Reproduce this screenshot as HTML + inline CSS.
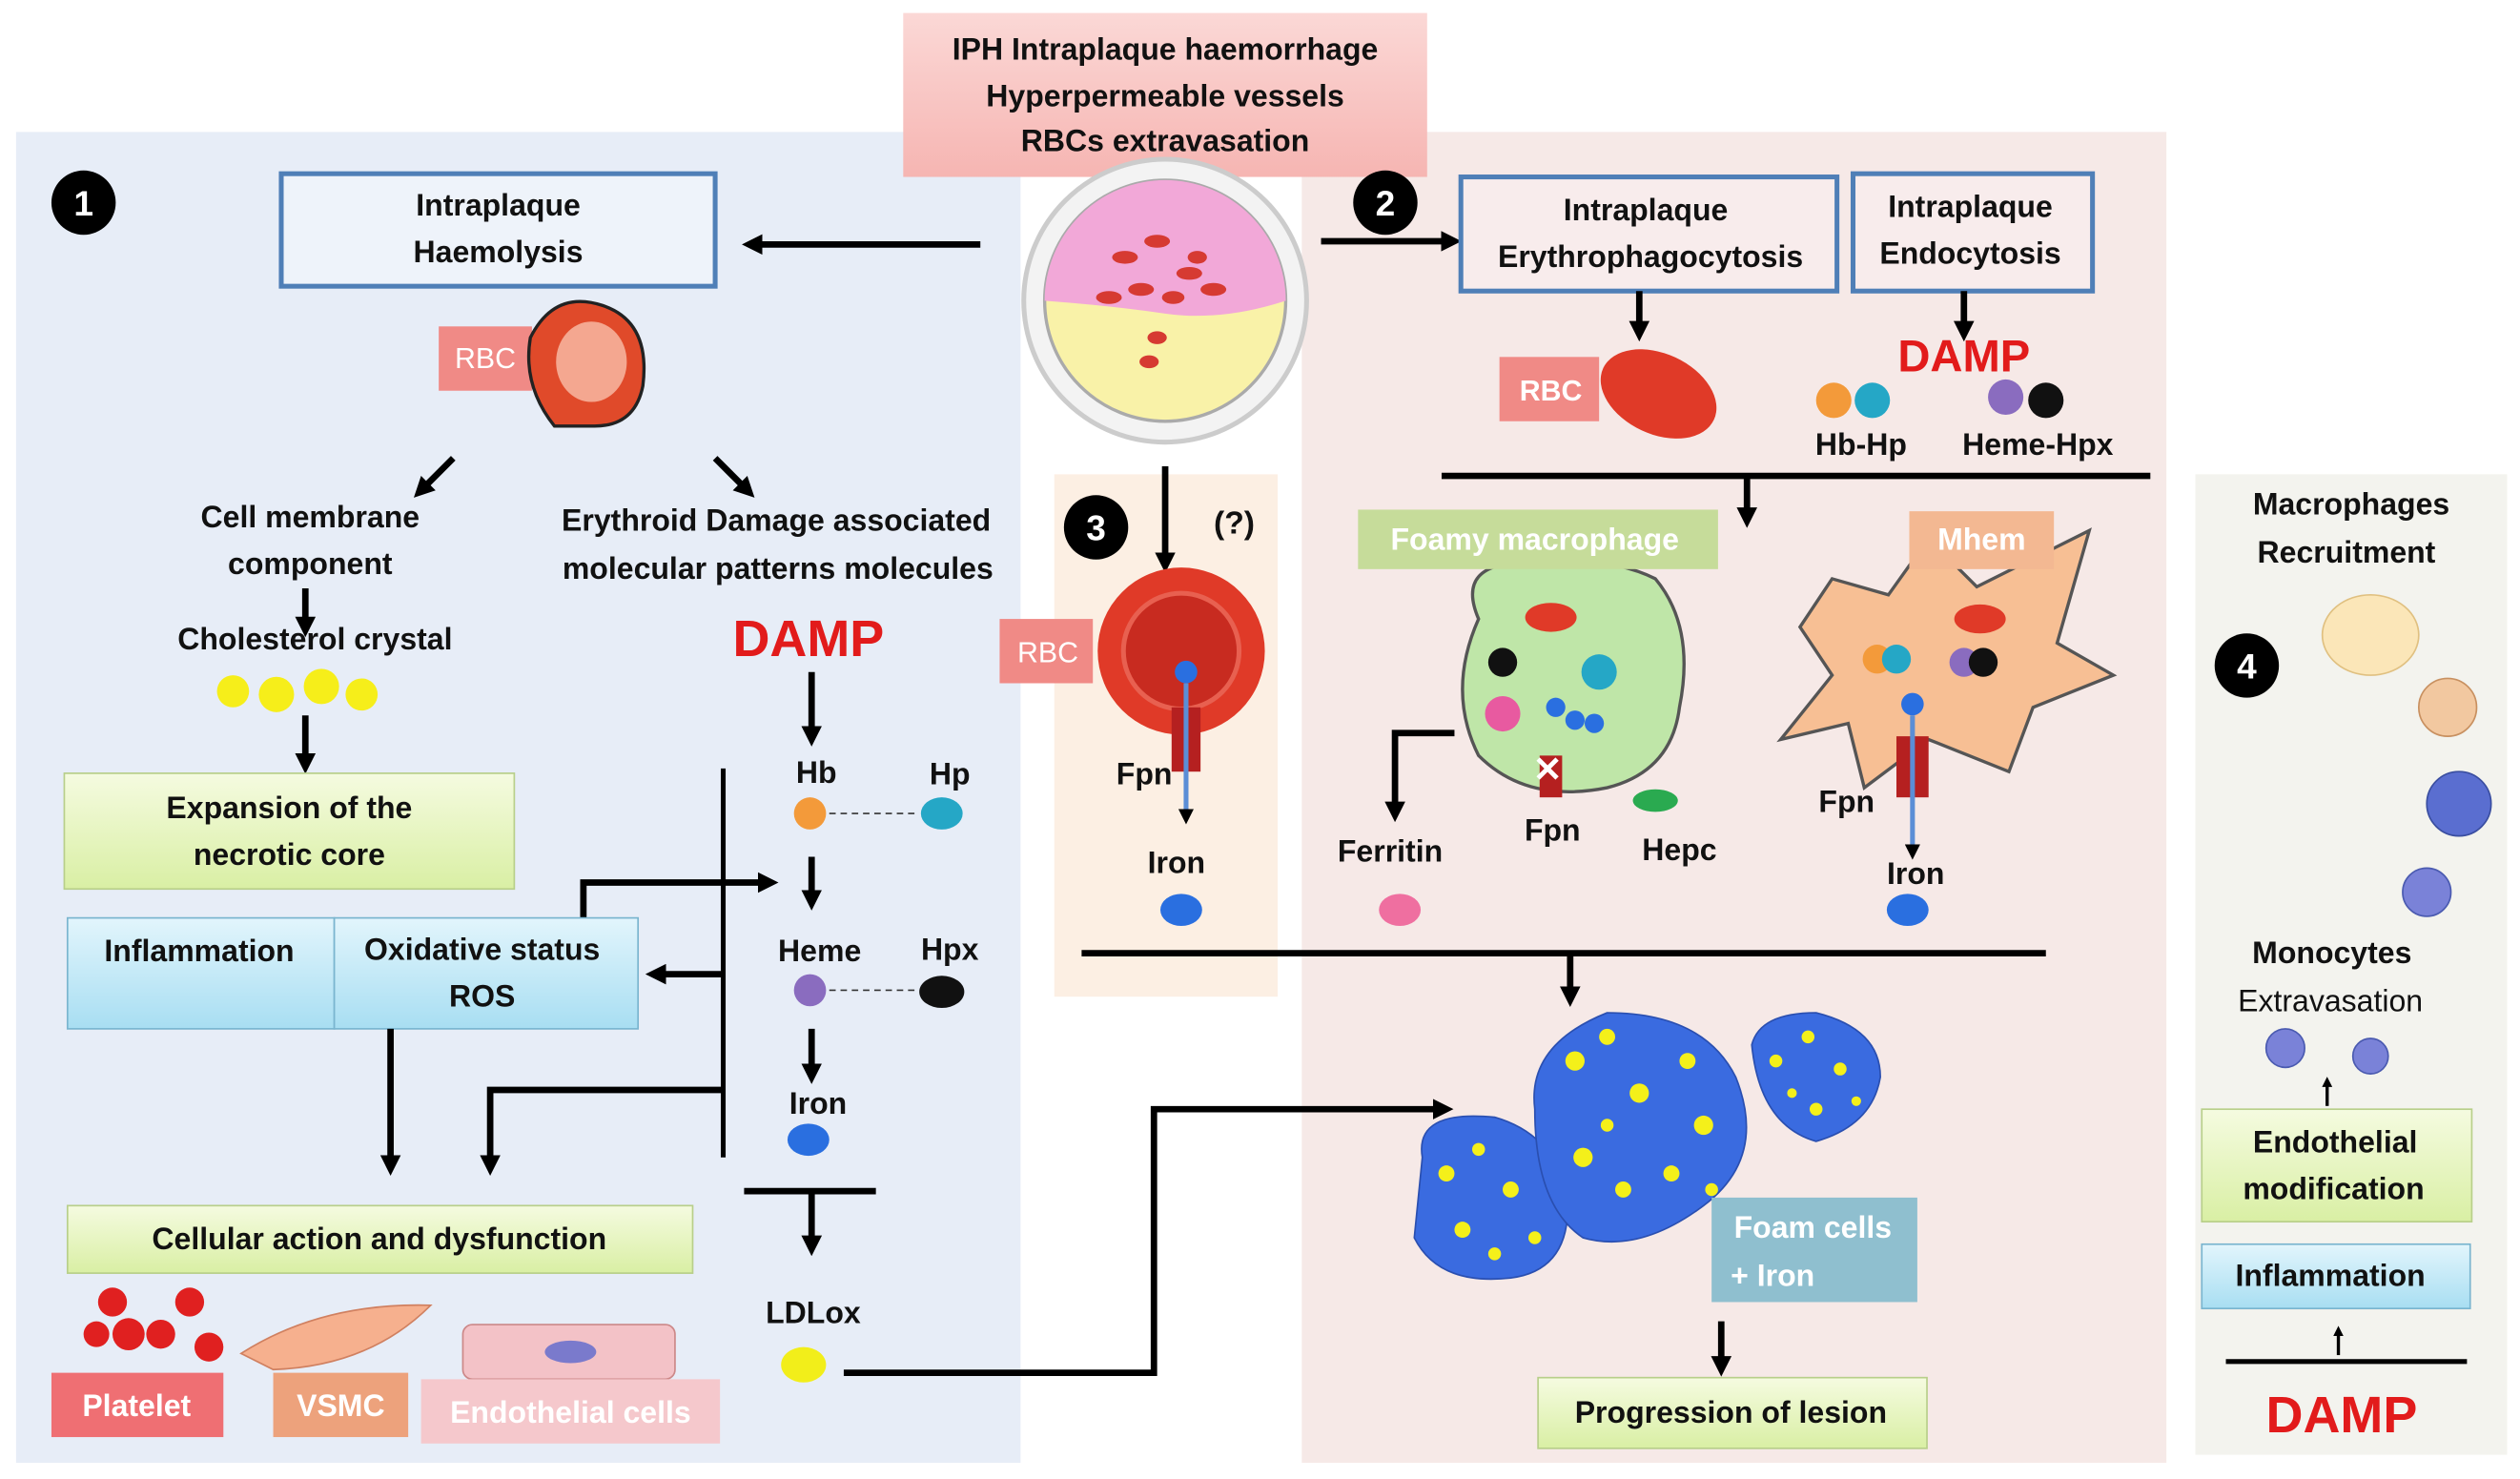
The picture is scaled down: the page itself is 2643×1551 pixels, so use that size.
<!DOCTYPE html>
<html><head><meta charset="utf-8"><style>
html,body{margin:0;padding:0;background:#fff}
svg{display:block}
text{font-family:"Liberation Sans",sans-serif;font-weight:bold;fill:#111}
</style></head><body>
<svg width="2643" height="1551" viewBox="0 0 1568 920" xmlns="http://www.w3.org/2000/svg">
<defs>
<marker id="a" viewBox="0 0 10 10" refX="5" refY="5" markerWidth="3.2" markerHeight="3.2" orient="auto"><path d="M0,0L10,5L0,10z" fill="#000"/></marker>
<linearGradient id="pk" x1="0" y1="0" x2="0" y2="1"><stop offset="0" stop-color="#fbd8d6"/><stop offset="1" stop-color="#f6b5b2"/></linearGradient>
<linearGradient id="gr" x1="0" y1="0" x2="0" y2="1"><stop offset="0" stop-color="#f5fbe0"/><stop offset="1" stop-color="#d9efa4"/></linearGradient>
<linearGradient id="bl" x1="0" y1="0" x2="0" y2="1"><stop offset="0" stop-color="#e2f5fc"/><stop offset="1" stop-color="#a8def2"/></linearGradient>
</defs>
<!-- panels -->
<rect x="10" y="82" width="625" height="828" fill="#e7edf7"/>
<rect x="810" y="82" width="538" height="828" fill="#f6e9e7"/>
<rect x="656" y="295" width="139" height="325" fill="#fcefe3"/>
<rect x="1366" y="295" width="194" height="610" fill="#f3f3ee"/>
<!-- title -->
<rect x="562" y="8" width="326" height="102" fill="url(#pk)"/>
<text x="725" y="37" font-size="19" text-anchor="middle">IPH Intraplaque haemorrhage</text>
<text x="725" y="66" font-size="19" text-anchor="middle">Hyperpermeable vessels</text>
<text x="725" y="94" font-size="19" text-anchor="middle">RBCs extravasation</text>
<!-- central circle -->
<circle cx="725" cy="187" r="88" fill="#f3f3f3" stroke="#ccc" stroke-width="3"/>
<circle cx="725" cy="187" r="75" fill="#f9f2a8" stroke="#aaa" stroke-width="2"/>
<path d="M650,187 A75,75 0 0 1 800,187 Q760,200 725,195 Q690,190 650,187z" fill="#f2a8d8"/>
<g fill="#d63a32"><ellipse cx="700" cy="160" rx="8" ry="4"/><ellipse cx="720" cy="150" rx="8" ry="4"/><ellipse cx="740" cy="170" rx="8" ry="4"/><ellipse cx="710" cy="180" rx="8" ry="4"/><ellipse cx="755" cy="180" rx="8" ry="4"/><ellipse cx="690" cy="185" rx="8" ry="4"/><ellipse cx="730" cy="185" rx="7" ry="4"/><ellipse cx="720" cy="210" rx="6" ry="4"/><ellipse cx="715" cy="225" rx="6" ry="4"/><ellipse cx="745" cy="160" rx="6" ry="4"/></g>
<!-- numbers -->
<g fill="#000"><circle cx="52" cy="126" r="20"/><circle cx="862" cy="126" r="20"/><circle cx="682" cy="328" r="20"/><circle cx="1398" cy="414" r="20"/></g>
<g font-size="22" text-anchor="middle" style="fill:#fff"><text x="52" y="134" style="fill:#fff">1</text><text x="862" y="134" style="fill:#fff">2</text><text x="682" y="336" style="fill:#fff">3</text><text x="1398" y="422" style="fill:#fff">4</text></g>
<!-- section 1 -->
<rect x="175" y="108" width="270" height="70" fill="#eef3fa" stroke="#4f7fb7" stroke-width="3"/>
<text x="310" y="134" font-size="19" text-anchor="middle">Intraplaque</text>
<text x="310" y="163" font-size="19" text-anchor="middle">Haemolysis</text>
<line x1="610" y1="152" x2="468" y2="152" stroke="#000" stroke-width="4" marker-end="url(#a)"/>
<rect x="273" y="203" width="58" height="40" fill="#f08a86"/>
<text x="302" y="229" font-size="18" text-anchor="middle" style="fill:#fff;font-weight:normal">RBC</text>
<path d="M330,210 Q345,180 375,190 Q405,200 400,240 Q395,265 370,265 L345,265 Q325,240 330,210z" fill="#e04a2a" stroke="#222" stroke-width="2"/>
<ellipse cx="368" cy="225" rx="22" ry="25" fill="#f4a790"/>
<text x="193" y="328" font-size="19" text-anchor="middle">Cell membrane</text>
<text x="193" y="357" font-size="19" text-anchor="middle">component</text>
<text x="196" y="404" font-size="19" text-anchor="middle">Cholesterol crystal</text>
<text x="483" y="330" font-size="19" text-anchor="middle">Erythroid Damage associated</text>
<text x="484" y="360" font-size="19" text-anchor="middle">molecular patterns molecules</text>
<line x1="282" y1="285" x2="262" y2="305" stroke="#000" stroke-width="4" marker-end="url(#a)"/>
<line x1="445" y1="285" x2="465" y2="305" stroke="#000" stroke-width="4" marker-end="url(#a)"/>
<line x1="190" y1="366" x2="190" y2="390" stroke="#000" stroke-width="4" marker-end="url(#a)"/>
<g fill="#f6ee1a"><circle cx="145" cy="430" r="10"/><circle cx="172" cy="432" r="11"/><circle cx="200" cy="427" r="11"/><circle cx="225" cy="432" r="10"/></g>
<line x1="190" y1="445" x2="190" y2="475" stroke="#000" stroke-width="4" marker-end="url(#a)"/>
<rect x="40" y="481" width="280" height="72" fill="url(#gr)" stroke="#b8cf8a"/>
<text x="180" y="509" font-size="19" text-anchor="middle">Expansion of the</text>
<text x="180" y="538" font-size="19" text-anchor="middle">necrotic core</text>
<text x="503" y="408" font-size="32" text-anchor="middle" style="fill:#e21b1b">DAMP</text>
<line x1="505" y1="418" x2="505" y2="458" stroke="#000" stroke-width="4" marker-end="url(#a)"/>
<text x="508" y="487" font-size="19" text-anchor="middle">Hb</text>
<text x="591" y="488" font-size="19" text-anchor="middle">Hp</text>
<circle cx="504" cy="506" r="10" fill="#f39a3a"/><ellipse cx="586" cy="506" rx="13" ry="10" fill="#25a7c6"/>
<line x1="516" y1="506" x2="572" y2="506" stroke="#333" stroke-dasharray="4 3"/>
<line x1="450" y1="478" x2="450" y2="720" stroke="#000" stroke-width="3"/>
<line x1="505" y1="533" x2="505" y2="560" stroke="#000" stroke-width="4" marker-end="url(#a)"/>
<polyline points="363,572 363,549 478,549" fill="none" stroke="#000" stroke-width="4" marker-end="url(#a)"/>
<text x="510" y="598" font-size="19" text-anchor="middle">Heme</text>
<text x="591" y="597" font-size="19" text-anchor="middle">Hpx</text>
<circle cx="504" cy="616" r="10" fill="#8a6cbf"/><ellipse cx="586" cy="617" rx="14" ry="10" fill="#111"/>
<line x1="516" y1="616" x2="572" y2="616" stroke="#333" stroke-dasharray="4 3"/>
<line x1="505" y1="640" x2="505" y2="668" stroke="#000" stroke-width="4" marker-end="url(#a)"/>
<text x="509" y="693" font-size="19" text-anchor="middle">Iron</text>
<ellipse cx="503" cy="709" rx="13" ry="10" fill="#2a6fe0"/>
<line x1="450" y1="606" x2="408" y2="606" stroke="#000" stroke-width="4" marker-end="url(#a)"/>
<rect x="42" y="571" width="166" height="69" fill="url(#bl)" stroke="#7ab5cf"/>
<rect x="208" y="571" width="189" height="69" fill="url(#bl)" stroke="#7ab5cf"/>
<text x="124" y="598" font-size="19" text-anchor="middle">Inflammation</text>
<text x="300" y="597" font-size="19" text-anchor="middle">Oxidative status</text>
<text x="300" y="626" font-size="19" text-anchor="middle">ROS</text>
<line x1="243" y1="640" x2="243" y2="725" stroke="#000" stroke-width="4" marker-end="url(#a)"/>
<polyline points="450,678 305,678 305,725" fill="none" stroke="#000" stroke-width="4" marker-end="url(#a)"/>
<line x1="463" y1="741" x2="545" y2="741" stroke="#000" stroke-width="4"/>
<line x1="505" y1="741" x2="505" y2="775" stroke="#000" stroke-width="4" marker-end="url(#a)"/>
<rect x="42" y="750" width="389" height="42" fill="url(#gr)" stroke="#b8cf8a"/>
<text x="236" y="777" font-size="19" text-anchor="middle">Cellular action and dysfunction</text>
<text x="506" y="823" font-size="19" text-anchor="middle">LDLox</text>
<ellipse cx="500" cy="849" rx="14" ry="11" fill="#f2ee1a"/>
<polyline points="525,854 718,854 718,690 898,690" fill="none" stroke="#000" stroke-width="4" marker-end="url(#a)"/>
<g fill="#e02020"><circle cx="70" cy="810" r="9"/><circle cx="80" cy="830" r="10"/><circle cx="100" cy="830" r="9"/><circle cx="118" cy="810" r="9"/><circle cx="130" cy="838" r="9"/><circle cx="60" cy="830" r="8"/></g>
<path d="M150,842 Q200,810 268,812 Q230,850 170,852z" fill="#f6b08e" stroke="#d08060"/>
<rect x="288" y="824" width="132" height="34" rx="6" fill="#f3c2c7" stroke="#c88"/>
<ellipse cx="355" cy="841" rx="16" ry="7" fill="#7a7acc"/>
<rect x="32" y="854" width="107" height="40" fill="#ef6f73"/>
<text x="85" y="881" font-size="19" text-anchor="middle" style="fill:#fff">Platelet</text>
<rect x="170" y="854" width="84" height="40" fill="#eda27c"/>
<text x="212" y="881" font-size="19" text-anchor="middle" style="fill:#fff">VSMC</text>
<rect x="262" y="858" width="186" height="40" fill="#f5c8cc"/>
<text x="355" y="885" font-size="19" text-anchor="middle" style="fill:#fff">Endothelial cells</text>
<!-- section 3 -->
<line x1="725" y1="290" x2="725" y2="350" stroke="#000" stroke-width="4" marker-end="url(#a)"/>
<text x="768" y="332" font-size="20" text-anchor="middle">(?)</text>
<circle cx="735" cy="405" r="52" fill="#e03a28"/>
<circle cx="735" cy="405" r="36" fill="#c82b20" stroke="#e86050" stroke-width="3"/>
<rect x="622" y="385" width="58" height="40" fill="#f08a86"/>
<text x="652" y="412" font-size="18" text-anchor="middle" style="fill:#fff;font-weight:normal">RBC</text>
<rect x="729" y="440" width="18" height="40" fill="#b52020"/>
<circle cx="738" cy="418" r="7" fill="#2a6fe0"/>
<line x1="738" y1="425" x2="738" y2="508" stroke="#5b8ed6" stroke-width="3" marker-end="url(#a)"/>
<text x="712" y="488" font-size="19" text-anchor="middle">Fpn</text>
<text x="732" y="543" font-size="19" text-anchor="middle">Iron</text>
<ellipse cx="735" cy="566" rx="13" ry="10" fill="#2a6fe0"/>
<!-- section 2 -->
<line x1="822" y1="150" x2="903" y2="150" stroke="#000" stroke-width="4" marker-end="url(#a)"/>
<rect x="909" y="110" width="234" height="71" fill="#f8ecec" stroke="#4f7fb7" stroke-width="3"/>
<text x="1024" y="137" font-size="19" text-anchor="middle">Intraplaque</text>
<text x="1027" y="166" font-size="19" text-anchor="middle">Erythrophagocytosis</text>
<rect x="1153" y="108" width="149" height="73" fill="#f8ecec" stroke="#4f7fb7" stroke-width="3"/>
<text x="1226" y="135" font-size="19" text-anchor="middle">Intraplaque</text>
<text x="1226" y="164" font-size="19" text-anchor="middle">Endocytosis</text>
<line x1="1020" y1="181" x2="1020" y2="206" stroke="#000" stroke-width="4" marker-end="url(#a)"/>
<line x1="1222" y1="181" x2="1222" y2="206" stroke="#000" stroke-width="4" marker-end="url(#a)"/>
<ellipse cx="1032" cy="245" rx="38" ry="25" transform="rotate(25 1032 245)" fill="#e03a28"/>
<rect x="933" y="222" width="62" height="40" fill="#f08a86"/>
<text x="965" y="249" font-size="18" text-anchor="middle" style="fill:#fff">RBC</text>
<text x="1222" y="231" font-size="28" text-anchor="middle" style="fill:#e21b1b">DAMP</text>
<circle cx="1141" cy="249" r="11" fill="#f39a3a"/><circle cx="1165" cy="249" r="11" fill="#25a7c6"/>
<circle cx="1248" cy="247" r="11" fill="#8a6cbf"/><circle cx="1273" cy="249" r="11" fill="#111"/>
<text x="1158" y="283" font-size="19" text-anchor="middle">Hb-Hp</text>
<text x="1268" y="283" font-size="19" text-anchor="middle">Heme-Hpx</text>
<line x1="897" y1="296" x2="1338" y2="296" stroke="#000" stroke-width="4"/>
<line x1="1087" y1="296" x2="1087" y2="322" stroke="#000" stroke-width="4" marker-end="url(#a)"/>
<path d="M920,385 Q905,350 950,350 Q1000,345 1030,360 Q1055,390 1045,440 Q1040,480 1000,490 Q950,500 920,470 Q900,430 920,385z" fill="#bfe6a8" stroke="#555" stroke-width="2"/>
<rect x="845" y="317" width="224" height="37" fill="#c6dc9a"/>
<text x="955" y="342" font-size="19" text-anchor="middle" style="fill:#fff">Foamy macrophage</text>
<ellipse cx="965" cy="384" rx="16" ry="9" fill="#e03a28"/><circle cx="935" cy="412" r="9" fill="#111"/><circle cx="995" cy="418" r="11" fill="#25a7c6"/><circle cx="935" cy="444" r="11" fill="#e85aa0"/>
<g fill="#2a6fe0"><circle cx="968" cy="440" r="6"/><circle cx="980" cy="448" r="6"/><circle cx="992" cy="450" r="6"/></g>
<rect x="958" y="470" width="14" height="26" fill="#b52020"/>
<text x="963" y="486" font-size="22" text-anchor="middle" style="fill:#fff">✕</text>
<ellipse cx="1030" cy="498" rx="14" ry="7" fill="#2aaa50"/>
<polyline points="905,456 868,456 868,505" fill="none" stroke="#000" stroke-width="4" marker-end="url(#a)"/>
<text x="865" y="536" font-size="19" text-anchor="middle">Ferritin</text>
<ellipse cx="871" cy="566" rx="13" ry="10" fill="#ef6fa0"/>
<text x="966" y="523" font-size="19" text-anchor="middle">Fpn</text>
<text x="1045" y="535" font-size="19" text-anchor="middle">Hepc</text>
<path d="M1140,360 L1175,370 L1200,335 L1230,365 L1300,330 L1280,400 L1315,420 L1265,440 L1250,480 L1200,460 L1160,490 L1150,450 L1108,460 L1140,420 L1120,390z" fill="#f7bf94" stroke="#555" stroke-width="2"/>
<rect x="1188" y="318" width="90" height="36" fill="#f3b892"/>
<text x="1233" y="342" font-size="19" text-anchor="middle" style="fill:#fff">Mhem</text>
<ellipse cx="1232" cy="385" rx="16" ry="9" fill="#e03a28"/>
<circle cx="1168" cy="410" r="9" fill="#f39a3a"/><circle cx="1180" cy="410" r="9" fill="#25a7c6"/>
<circle cx="1222" cy="412" r="9" fill="#8a6cbf"/><circle cx="1234" cy="412" r="9" fill="#111"/>
<rect x="1180" y="458" width="20" height="38" fill="#b52020"/>
<circle cx="1190" cy="438" r="7" fill="#2a6fe0"/>
<line x1="1190" y1="445" x2="1190" y2="530" stroke="#5b8ed6" stroke-width="3" marker-end="url(#a)"/>
<text x="1149" y="505" font-size="19" text-anchor="middle">Fpn</text>
<text x="1192" y="550" font-size="19" text-anchor="middle">Iron</text>
<ellipse cx="1187" cy="566" rx="13" ry="10" fill="#2a6fe0"/>
<line x1="673" y1="593" x2="1273" y2="593" stroke="#000" stroke-width="4"/>
<line x1="977" y1="593" x2="977" y2="620" stroke="#000" stroke-width="4" marker-end="url(#a)"/>
<!-- foam cells -->
<g fill="#3a6be0" stroke="#2a4fb0"><path d="M885,720 Q880,690 930,695 Q965,705 975,740 Q980,790 940,795 Q895,800 880,770z"/><path d="M955,690 Q950,650 1000,630 Q1060,630 1080,670 Q1100,720 1060,750 Q1020,780 985,770 Q955,750 955,690z"/><path d="M1090,650 Q1095,630 1130,630 Q1170,640 1170,670 Q1165,700 1130,710 Q1095,700 1090,650z"/></g>
<g fill="#f4f01a"><circle cx="900" cy="730" r="5"/><circle cx="920" cy="715" r="4"/><circle cx="940" cy="740" r="5"/><circle cx="955" cy="770" r="4"/><circle cx="910" cy="765" r="5"/><circle cx="930" cy="780" r="4"/><circle cx="980" cy="660" r="6"/><circle cx="1000" cy="645" r="5"/><circle cx="1020" cy="680" r="6"/><circle cx="1050" cy="660" r="5"/><circle cx="1060" cy="700" r="6"/><circle cx="985" cy="720" r="6"/><circle cx="1010" cy="740" r="5"/><circle cx="1040" cy="730" r="5"/><circle cx="1065" cy="740" r="4"/><circle cx="1000" cy="700" r="4"/><circle cx="1105" cy="660" r="4"/><circle cx="1125" cy="645" r="4"/><circle cx="1145" cy="665" r="4"/><circle cx="1130" cy="690" r="4"/><circle cx="1155" cy="685" r="3"/><circle cx="1115" cy="680" r="3"/></g>
<rect x="1065" y="745" width="128" height="65" fill="#8fbfcf"/>
<text x="1128" y="770" font-size="19" text-anchor="middle" style="fill:#fff">Foam cells</text>
<text x="1103" y="800" font-size="19" text-anchor="middle" style="fill:#fff">+ Iron</text>
<line x1="1071" y1="822" x2="1071" y2="850" stroke="#000" stroke-width="4" marker-end="url(#a)"/>
<rect x="957" y="857" width="242" height="44" fill="url(#gr)" stroke="#b8cf8a"/>
<text x="1077" y="885" font-size="19" text-anchor="middle">Progression of lesion</text>
<!-- section 4 -->
<text x="1463" y="320" font-size="19" text-anchor="middle">Macrophages</text>
<text x="1460" y="350" font-size="19" text-anchor="middle">Recruitment</text>
<ellipse cx="1475" cy="395" rx="30" ry="25" fill="#fbe6b8" stroke="#e0c080"/>
<circle cx="1523" cy="440" r="18" fill="#f2c8a0" stroke="#c89060"/>
<circle cx="1530" cy="500" r="20" fill="#5a6ed0" stroke="#3a4ea0"/>
<circle cx="1510" cy="555" r="15" fill="#7a82d8" stroke="#4a5ab0"/>
<text x="1451" y="599" font-size="19" text-anchor="middle">Monocytes</text>
<text x="1450" y="629" font-size="19" text-anchor="middle" style="font-weight:normal">Extravasation</text>
<circle cx="1422" cy="652" r="12" fill="#7a82d8" stroke="#4a5ab0"/>
<circle cx="1475" cy="657" r="11" fill="#7a82d8" stroke="#4a5ab0"/>
<line x1="1448" y1="688" x2="1448" y2="673" stroke="#000" stroke-width="2" marker-end="url(#a)"/>
<rect x="1370" y="690" width="168" height="70" fill="url(#gr)" stroke="#b8cf8a"/>
<text x="1453" y="717" font-size="19" text-anchor="middle">Endothelial</text>
<text x="1452" y="746" font-size="19" text-anchor="middle">modification</text>
<rect x="1370" y="774" width="167" height="40" fill="url(#bl)" stroke="#7ab5cf"/>
<text x="1450" y="800" font-size="19" text-anchor="middle">Inflammation</text>
<line x1="1455" y1="843" x2="1455" y2="828" stroke="#000" stroke-width="2" marker-end="url(#a)"/>
<line x1="1385" y1="847" x2="1535" y2="847" stroke="#000" stroke-width="3"/>
<text x="1457" y="891" font-size="32" text-anchor="middle" style="fill:#e21b1b">DAMP</text>
</svg>
</body></html>
